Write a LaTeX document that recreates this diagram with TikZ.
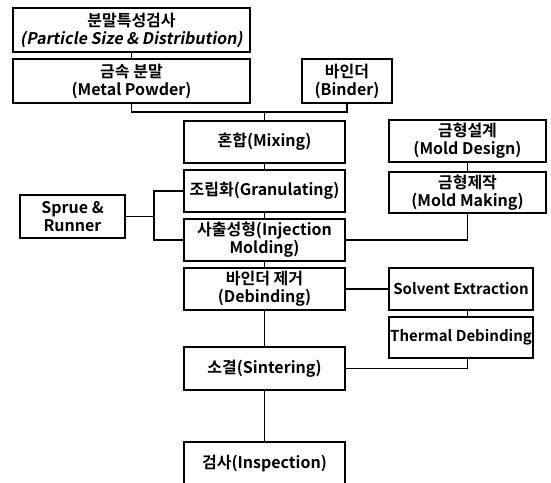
\documentclass[tikz,border=0pt]{standalone}
\usepackage{fontspec}
\setmainfont{Noto Sans CJK KR}[UprightFont={* Bold}, ItalicFont={* Bold}, ItalicFeatures={FakeSlant=0.18}]

\tikzset{
  stepbox/.style={draw, line width=1.4pt, inner sep=0pt, align=center,
    minimum width=161pt, minimum height=42pt, font=\fontsize{16}{18}\selectfont},
  link/.style={line width=1.8pt},
}

\begin{document}
\begin{tikzpicture}[x=1pt, y=-1pt]
    \useasboundingbox (0,0) rectangle (551,482);
    \clip (0,0) rectangle (551,482);
    % powder side
    \node (psd) [stepbox, minimum width=237pt, minimum height=44pt] at (131.5,30)
      {분말특성검사\\\itshape (Particle Size \& Distribution)};
    \node (metal) [stepbox, minimum width=237pt, minimum height=44pt] at (131.5,81)
      {금속 분말\\(Metal Powder)};
    \node (binder) [stepbox, minimum width=90pt, minimum height=44pt] at (347,81)
      {바인더\\(Binder)};
    % main line
    \node (mix) [stepbox] at (264.5,142) {혼합(Mixing)};
    \node (gran) [stepbox] at (264.5,191) {조립화(Granulating)};
    \node (inj) [stepbox] at (264.5,240) {사출성형(Injection\\Molding)};
    \node (debind) [stepbox] at (264.5,289) {바인더 제거\\(Debinding)};
    \node (sinter) [stepbox, minimum height=43pt] at (264.5,368.5) {소결(Sintering)};
    \node (insp) [stepbox, minimum height=43pt] at (264.5,463.5) {검사(Inspection)};
    % side boxes
    \node (sprue) [stepbox, minimum width=105pt, minimum height=43pt] at (72.5,216.5)
      {Sprue \&\\Runner};
    \node (mdes) [stepbox, minimum width=157pt] at (467.5,141) {금형설계\\(Mold Design)};
    \node (mmake) [stepbox, minimum width=157pt, minimum height=41pt] at (467.5,192.5)
      {금형제작\\(Mold Making)};
    \node (solvent) [stepbox, minimum width=144pt, font=\fontsize{15}{17}\selectfont]
      at (461,289) {Solvent Extraction};
    \node (thermal) [stepbox, minimum width=144pt, minimum height=41pt,
      font=\fontsize{15}{17}\selectfont] at (461,337.5) {Thermal Debinding};

    \coordinate (feed) at (264.5,112);
    \coordinate (brk) at (154,216.5);

    \draw[link] (psd) -- (metal);
    \draw[link] (metal.south) |- (feed) -- (mix.north);
    \draw[link] (binder.south) |- (feed);
    \draw[link] (mix) -- (gran);
    \draw[link] (gran) -- (inj);
    \draw[link] (inj) -- (debind);
    \draw[link] (debind) -- (sinter);
    \draw[link] (sinter) -- (insp);
    \draw[link] (sprue) -- (brk);
    \draw[link] (gran.west) -| (brk) |- (inj.west);
    \draw[link] (mdes) -- (mmake);
    \draw[link] (mmake.south) |- (inj.east);
    \draw[link] (debind) -- (solvent);
    \draw[link] (solvent.south -| mdes.south) -- (thermal.north -| mdes.south);
    \draw[link] (thermal.south -| mdes.south) |- (sinter.east);
\end{tikzpicture}
\end{document}
